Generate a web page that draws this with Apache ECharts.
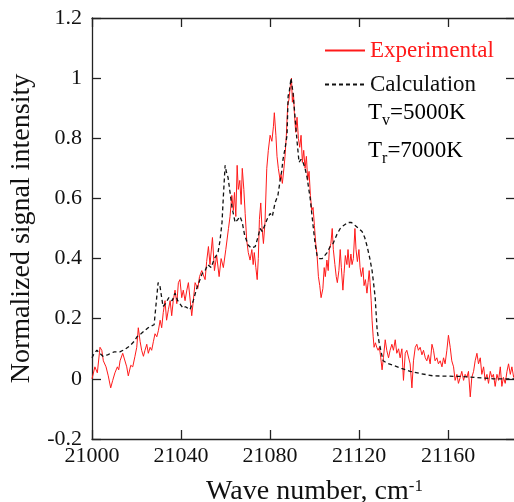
<!DOCTYPE html>
<html><head><meta charset="utf-8">
<script src="https://cdn.jsdelivr.net/npm/echarts@6/dist/echarts.min.js"></script>
<style>html,body{margin:0;padding:0;background:#fff}#c{width:514px;height:502px}</style>
</head><body><div id="c"></div>
<script>
var xTicks = [21000, 21040, 21080, 21120, 21160];
var yTicks = [-0.2, 0, 0.2, 0.4, 0.6, 0.8, 1, 1.2];
var legendNames = ['Experimental', 'Calculation'];
var tempLabels = ['{a|T}{s|v}{a|=5000K}', '{a|T}{s|r}{a|=7000K}'];

var experimental = [
[21000.0,0.00],[21000.3,-0.005],[21001.3,0.04],[21002.4,0.02],[21003.6,0.105],[21004.4,0.095],[21005.1,0.06],[21006.3,0.04],[21007.3,0.01],[21008.4,-0.03],
[21009.3,-0.005],[21010.3,0.02],[21011.4,0.04],[21012.0,0.03],[21012.6,0.06],[21013.8,0.085],[21014.5,0.08],[21015.6,0.04],[21016.3,0.01],[21017.4,0.045],
[21018.3,0.04],[21019.3,0.075],[21020.1,0.105],[21020.8,0.17],[21021.6,0.125],[21022.3,0.095],[21023.1,0.075],[21023.8,0.095],[21024.6,0.115],[21025.3,0.085],
[21026.1,0.105],[21026.8,0.095],[21027.6,0.125],[21028.3,0.15],[21029.1,0.14],[21029.8,0.16],[21030.6,0.195],[21031.3,0.17],[21032.0,0.22],[21032.8,0.26],
[21033.5,0.195],[21034.3,0.23],[21035.1,0.26],[21035.8,0.21],[21036.5,0.26],[21037.3,0.295],[21038.1,0.25],[21038.8,0.32],[21039.5,0.33],[21040.3,0.27],
[21041.0,0.295],[21041.8,0.26],[21042.6,0.295],[21043.3,0.32],[21044.0,0.32],[21044.8,0.21],[21045.5,0.26],[21046.3,0.32],[21047.5,0.30],[21048.3,0.34],
[21049.3,0.36],[21050.8,0.33],[21051.5,0.39],[21052.3,0.44],[21053.0,0.38],[21054.1,0.47],[21055.0,0.36],[21056.0,0.41],[21057.1,0.34],[21058.0,0.40],
[21059.0,0.37],[21060.1,0.43],[21061.3,0.50],[21062.0,0.54],[21062.8,0.61],[21063.5,0.56],[21064.0,0.62],[21064.6,0.54],[21065.2,0.71],[21065.7,0.63],
[21066.4,0.66],[21067.0,0.58],[21067.5,0.70],[21068.2,0.63],[21068.8,0.55],[21069.5,0.46],[21070.2,0.42],[21071.0,0.395],[21071.8,0.43],[21072.4,0.38],
[21072.9,0.42],[21073.6,0.37],[21074.2,0.33],[21074.7,0.40],[21075.2,0.53],[21075.8,0.585],[21076.3,0.51],[21077.0,0.45],[21077.7,0.52],[21078.5,0.70],
[21079.2,0.76],[21080.0,0.81],[21080.8,0.79],[21081.5,0.84],[21081.9,0.885],[21082.6,0.81],[21083.1,0.74],[21083.7,0.70],[21084.5,0.66],[21084.9,0.68],
[21085.5,0.65],[21086.2,0.70],[21086.7,0.74],[21087.3,0.81],[21087.9,0.91],[21088.5,0.93],[21089.1,0.975],[21089.6,1.0],[21090.0,0.92],[21090.5,0.95],
[21090.9,0.885],[21091.5,0.82],[21092.1,0.87],[21092.7,0.80],[21093.3,0.77],[21093.9,0.81],[21094.5,0.72],[21095.1,0.76],[21095.7,0.70],[21096.3,0.74],
[21096.9,0.66],[21097.5,0.69],[21098.1,0.61],[21098.7,0.56],[21099.3,0.57],[21099.9,0.51],[21100.5,0.45],[21101.1,0.41],[21101.7,0.34],[21102.3,0.31],
[21102.9,0.27],[21103.7,0.30],[21104.3,0.37],[21104.8,0.34],[21105.5,0.395],[21106.1,0.36],[21106.6,0.43],[21107.3,0.45],[21107.9,0.50],[21108.4,0.43],
[21109.1,0.38],[21109.7,0.34],[21110.2,0.32],[21110.9,0.36],[21111.5,0.43],[21112.0,0.37],[21112.7,0.295],[21113.2,0.35],[21113.8,0.41],[21114.5,0.38],
[21115.0,0.43],[21115.6,0.37],[21116.3,0.415],[21116.8,0.38],[21117.4,0.40],[21118.1,0.50],[21118.6,0.43],[21119.2,0.39],[21119.9,0.43],[21120.4,0.37],
[21121.0,0.34],[21121.7,0.37],[21122.2,0.31],[21122.8,0.33],[21123.5,0.285],[21124.0,0.32],[21124.5,0.36],[21124.9,0.32],[21125.4,0.26],[21125.8,0.195],
[21126.3,0.14],[21126.7,0.105],[21127.3,0.12],[21127.9,0.105],[21128.5,0.095],[21129.1,0.105],[21129.7,0.07],[21130.3,0.03],[21130.9,0.07],[21131.7,0.13],
[21132.4,0.095],[21133.2,0.07],[21133.9,0.095],[21134.7,0.115],[21135.4,0.095],[21136.2,0.13],[21136.9,0.085],[21137.7,0.10],[21138.4,0.07],[21139.2,0.10],
[21139.9,-0.005],[21140.7,0.085],[21141.4,0.095],[21142.1,0.10],[21142.9,0.05],[21143.7,-0.03],[21144.4,0.06],[21145.2,0.105],[21145.9,0.115],[21146.6,0.095],
[21147.4,0.105],[21148.2,0.08],[21148.9,0.095],[21149.7,0.07],[21150.4,0.06],[21151.1,0.08],[21151.9,0.05],[21152.7,0.115],[21153.4,0.095],[21154.1,0.06],
[21154.9,0.07],[21155.6,0.05],[21156.4,0.06],[21157.2,0.04],[21157.9,0.07],[21158.6,0.05],[21159.4,0.095],[21160.1,0.145],[21160.9,0.105],[21161.6,0.06],
[21162.4,0.04],[21163.1,-0.005],[21163.9,0.015],[21164.6,-0.015],[21165.4,0.005],[21166.1,0.025],[21166.9,-0.005],[21167.6,0.015],[21168.4,0.005],[21169.1,0.025],
[21169.9,-0.06],[21170.6,0.005],[21171.4,0.025],[21172.1,0.06],[21172.9,0.085],[21173.6,0.05],[21174.4,0.07],[21175.1,0.015],[21175.9,0.04],[21176.6,-0.005],
[21177.4,0.015],[21178.1,-0.015],[21178.9,0.025],[21179.6,0.005],[21180.3,0.015],[21181.1,-0.025],[21181.9,0.015],[21182.6,-0.005],[21183.4,0.04],[21184.1,-0.025],
[21184.8,0.005],[21185.6,-0.015],[21186.4,0.025],[21187.1,0.05],[21187.9,0.015],[21188.6,0.04],[21189.4,0.005],[21190.0,0.02]
];

var calculation = [
[21000,0.07],[21001,0.085],[21002.2,0.095],[21003.5,0.085],[21004.9,0.075],[21007,0.08],[21010,0.09],[21012.5,0.09],[21014.8,0.098],[21017,0.11],
[21019,0.125],[21020.2,0.14],[21022,0.15],[21025.2,0.17],[21027.9,0.18],[21028.8,0.25],[21029.7,0.32],[21030.5,0.31],[21031.9,0.24],[21033,0.25],
[21034.5,0.27],[21036,0.26],[21037.3,0.285],[21038.5,0.26],[21040.9,0.235],[21042,0.24],[21044,0.23],[21045.5,0.26],[21047,0.30],[21048.5,0.33],
[21049.5,0.35],[21050.8,0.36],[21052,0.38],[21053.5,0.37],[21055,0.40],[21056.6,0.42],[21057.5,0.46],[21058.4,0.52],[21059.1,0.62],[21059.8,0.71],
[21060.3,0.69],[21061.1,0.67],[21062,0.62],[21062.9,0.57],[21064.3,0.52],[21065.5,0.53],[21066.5,0.54],[21067.5,0.52],[21068.5,0.48],[21070.1,0.445],
[21071.5,0.435],[21073.3,0.44],[21074.5,0.47],[21075.5,0.50],[21076.5,0.49],[21078.6,0.53],[21080,0.55],[21081,0.54],[21082.2,0.585],[21083.5,0.61],
[21084.5,0.66],[21085.2,0.69],[21085.8,0.73],[21086.8,0.77],[21087.6,0.81],[21088.1,0.94],[21088.7,0.96],[21089.4,1.0],[21090.3,0.95],[21091.2,0.87],
[21092.1,0.79],[21093,0.72],[21093.9,0.73],[21094.8,0.72],[21095.7,0.70],[21096.6,0.67],[21098,0.60],[21099.3,0.51],[21100.2,0.45],[21101.1,0.41],
[21102.2,0.40],[21103.4,0.40],[21104.5,0.41],[21105.6,0.42],[21107,0.44],[21108.3,0.45],[21110,0.48],[21111.5,0.50],[21113,0.51],[21115,0.52],
[21116.5,0.52],[21118.2,0.51],[21119.8,0.50],[21121.3,0.49],[21122.5,0.47],[21123.6,0.44],[21124.8,0.40],[21125.8,0.36],[21126.6,0.31],[21127.2,0.27],
[21128.1,0.16],[21129,0.12],[21130,0.085],[21130.8,0.06],[21132.5,0.052],[21135.3,0.045],[21139,0.035],[21142.9,0.025],[21148,0.017],[21153.2,0.01],
[21160,0.009],[21165.4,0.008],[21172,0.005],[21180.2,0.0],[21190,0.0]
];

var FONT = '"Liberation Serif", serif';
var chart = echarts.init(document.getElementById('c'), null, {renderer: 'canvas'});
var axisLineStyle = {color: '#222', width: 1.3};
function xAxisCfg(pos, labels) {
  return {
    type: 'value', position: pos, min: xTicks[0], max: 21190, interval: xTicks[1] - xTicks[0],
    axisLine: {show: true, onZero: false, lineStyle: axisLineStyle},
    axisTick: {show: true, inside: true, length: 9, lineStyle: axisLineStyle},
    axisLabel: {show: labels, showMaxLabel: false, fontFamily: FONT, fontSize: 22, color: '#111', margin: 6,
      formatter: function (v) { return String(v); }},
    splitLine: {show: false}
  };
}
function yAxisCfg(pos, labels) {
  return {
    type: 'value', position: pos, min: yTicks[0], max: yTicks[yTicks.length - 1], interval: 0.2,
    axisLine: {show: true, onZero: false, lineStyle: axisLineStyle},
    axisTick: {show: true, inside: true, length: 9, lineStyle: axisLineStyle},
    axisLabel: {show: labels, fontFamily: FONT, fontSize: 22, color: '#111', margin: 10,
      formatter: function (v) { return String(Math.round(v * 10) / 10); }},
    splitLine: {show: false}
  };
}
var xb = xAxisCfg('bottom', true);
xb.name = '{a|Wave number, cm}{s|-1}';
xb.nameLocation = 'middle';
xb.nameGap = 39;
xb.nameTextStyle = {padding: [0, 0, 0, 22], rich: {
  a: {fontFamily: FONT, fontSize: 28, color: '#111', lineHeight: 28, verticalAlign: 'bottom'},
  s: {fontFamily: FONT, fontSize: 17, color: '#111', lineHeight: 14, verticalAlign: 'top'}
}};
var yl = yAxisCfg('left', true);
yl.name = 'Normalized signal intensity';
yl.nameLocation = 'middle';
yl.nameGap = 56;
yl.nameTextStyle = {fontFamily: FONT, fontSize: 28, color: '#111'};

var richT = {
  a: {fontFamily: FONT, fontSize: 23, color: '#111', lineHeight: 26, verticalAlign: 'top'},
  s: {fontFamily: FONT, fontSize: 16, color: '#111', lineHeight: 16, verticalAlign: 'top', padding: [12, 0, 0, 0]}
};

chart.setOption({
  animation: false,
  backgroundColor: '#fff',
  textStyle: {fontFamily: FONT},
  grid: {left: 92, right: -1, top: 18, bottom: 63, containLabel: false, outerBoundsMode: 'none'},
  xAxis: [xb, xAxisCfg('top', false)],
  yAxis: [yl, yAxisCfg('right', false)],
  legend: {
    orient: 'vertical', left: 324, top: 39, padding: 0, itemGap: 11,
    itemWidth: 40, itemHeight: 14, selectedMode: false,
    itemStyle: {opacity: 0},
    textStyle: {fontFamily: FONT, fontSize: 23},
    data: [
      {name: legendNames[0], textStyle: {color: '#ff1a1a'}},
      {name: legendNames[1], textStyle: {color: '#111'}}
    ]
  },
  graphic: [
    {type: 'text', left: 368, top: 101, style: {text: tempLabels[0], rich: richT, fontFamily: FONT, fontSize: 23}},
    {type: 'text', left: 368, top: 139, style: {text: tempLabels[1], rich: richT, fontFamily: FONT, fontSize: 23}}
  ],
  series: [
    {name: legendNames[0], type: 'line', data: experimental, symbol: 'none', xAxisIndex: 0, yAxisIndex: 0,
     lineStyle: {color: '#ff1a1a', width: 1}, itemStyle: {color: '#ff1a1a'}, z: 2},
    {name: legendNames[1], type: 'line', data: calculation, symbol: 'none', xAxisIndex: 0, yAxisIndex: 0,
     lineStyle: {color: '#111', width: 1.3, type: [4, 3]}, itemStyle: {color: '#111'}, z: 3}
  ]
});
</script></body></html>
